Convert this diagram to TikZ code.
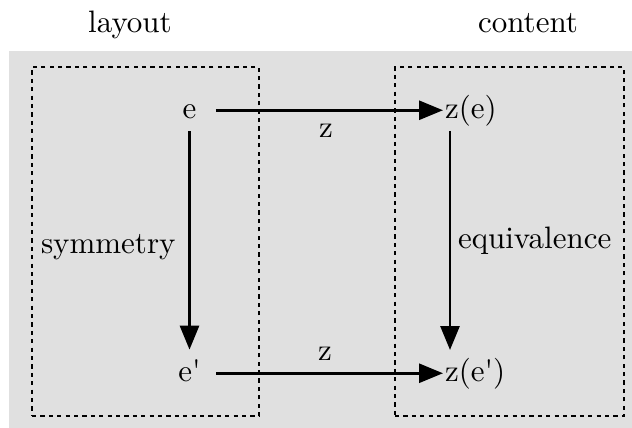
\documentclass[tikz,border=0pt]{standalone}
\usepackage{fontspec}
\setmainfont{lmroman10-regular}[Extension=.otf]
\usetikzlibrary{arrows.meta,calc}
\definecolor{bggray}{RGB}{224,224,224}
\begin{document}
\begin{tikzpicture}[x=1pt,y=-1pt,
  every node/.style={inner sep=0pt,outer sep=0pt,font=\fontsize{31}{37}\selectfont},
  arr/.style={line width=2.8pt,-{Triangle[length=24pt,width=19pt]}},
  framebox/.style={draw,line width=2.8pt,dash pattern=on 4.2pt off 4.2pt}]
\useasboundingbox (0,0) rectangle (632,428);
\fill[bggray] (9,51) rectangle (632,428);
\node[framebox, minimum width=227pt, minimum height=349pt] (lbox) at (145.5,241.5) {};
\node[framebox, minimum width=229pt, minimum height=349pt] (rbox) at (509.5,241.5) {};
\node[anchor=base] (layout) at (130,33) {layout};
\node[anchor=base] (content) at (528,33) {content};
\node[anchor=base] (e) at (189.5,118) {e};
\node[anchor=base] (ep) at (189.5,381) {e\textquotesingle};
\node[anchor=base west] (ze) at (445,118) {z(e)};
\node[anchor=base west] (zep) at (445,381) {z(e\textquotesingle)};
\node[anchor=base] (z1) at (326,137) {z};
\node[anchor=base] (z2) at (325,360) {z};
\node[anchor=base west] (sym) at (41,253) {symmetry};
\node[anchor=base west] (eqv) at (458,248) {equivalence};
\draw[arr, shorten <=19.5pt, shorten >=2pt] (e.east |- ze.west) -- (ze.west);
\draw[arr, shorten <=15.5pt, shorten >=2pt] (ep.east |- zep.west) -- (zep.west);
\draw[arr, shorten <=13pt, shorten >=9.5pt] (e.south) -- (e.south |- ep.north);
\coordinate (r1) at ([xshift=5pt]ze.south west);
\draw[arr, shorten <=5pt, shorten >=7.75pt] (r1) -- (r1 |- zep.north);
\end{tikzpicture}
\end{document}
